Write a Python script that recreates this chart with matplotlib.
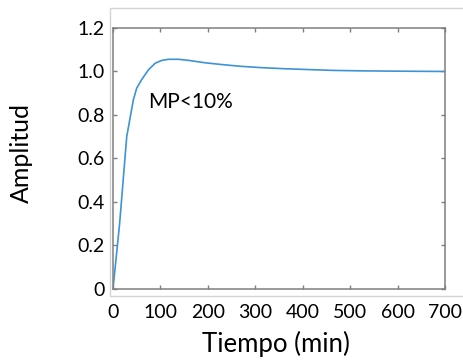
import matplotlib.pyplot as plt
from matplotlib.patches import Rectangle

# respuesta al escalon
tiempo = [0, 14, 29, 43, 50, 60, 75, 89, 103, 117, 138, 160, 194, 229, 268,
          310, 358, 410, 464, 520, 569, 630, 700]
amplitud = [0, 0.30, 0.70, 0.87, 0.923, 0.961, 1.008, 1.038, 1.051, 1.056,
            1.056, 1.051, 1.040, 1.032, 1.024, 1.018, 1.013, 1.009, 1.005,
            1.003, 1.002, 1.001, 1.000]

x_ticks = [0, 100, 200, 300, 400, 500, 600, 700]
y_ticks = [0, 0.2, 0.4, 0.6, 0.8, 1.0, 1.2]
y_labels = ['0', '0.2', '0.4', '0.6', '0.8', '1.0', '1.2']

plt.rcParams['font.family'] = ['Lato', 'DejaVu Sans']
gris = '#7f7f7f'

fig = plt.figure(figsize=(4.63, 3.62), dpi=100)
# marco claro alrededor del grafico
fig.patches.append(Rectangle((0.2376, 0.182), 0.80, 0.796, transform=fig.transFigure,
                             fill=False, edgecolor='#d4d4d4', linewidth=1.0))
ax = fig.add_axes([0.244, 0.2017, 0.717, 0.721])

ax.plot(tiempo, amplitud, color='#3d93d6', linewidth=1.2)
ax.text(74, 0.86, 'MP<10%', fontsize=15, va='center', ha='left')

ax.set_xlim(0, 700)
ax.set_ylim(0, 1.2)
ax.set_xticks(x_ticks)
ax.set_yticks(y_ticks)
ax.set_yticklabels(y_labels)
ax.tick_params(direction='in', length=3, width=1, color=gris, labelsize=14,
               top=True, right=True)
ax.tick_params(axis='x', pad=11)
ax.tick_params(axis='y', pad=6)
for s in ax.spines.values():
    s.set_color(gris)
    s.set_linewidth(1.1)

ax.set_xlabel('Tiempo (min)', fontsize=18.5)
ax.set_ylabel('Amplitud', fontsize=18)
ax.xaxis.set_label_coords(0.491, -0.16)
ax.yaxis.set_label_coords(-0.24, 0.52)

plt.savefig('out.png', dpi=100)
